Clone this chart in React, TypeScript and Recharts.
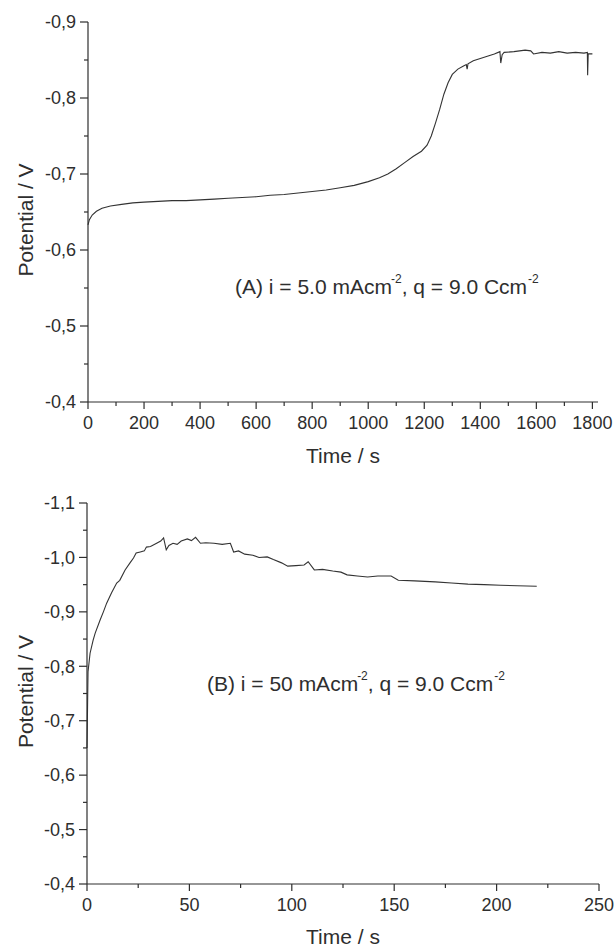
import React from 'react';
import { LineChart, Line, XAxis, YAxis } from 'recharts';

// (A) i = 5.0 mA/cm2 -- time (s) and potential (V)
const timeA = [
  0, 5, 15, 30, 50, 80, 120, 160, 200, 250, 300, 350, 400, 450, 500, 550, 600, 650, 700, 750,
  800, 850, 900, 950, 1000, 1040, 1070, 1100, 1130, 1160, 1190, 1210, 1225, 1240, 1255, 1270,
  1285, 1300, 1320, 1340, 1350, 1353, 1356, 1375, 1400, 1425, 1450, 1470, 1473, 1478, 1485,
  1520, 1560, 1580, 1590, 1620, 1650, 1680, 1710, 1740, 1770, 1782, 1783, 1785, 1800,
];
const potentialA = [
  -0.633, -0.64, -0.646, -0.651, -0.655, -0.658, -0.66, -0.662, -0.663, -0.664, -0.665, -0.665,
  -0.666, -0.667, -0.668, -0.669, -0.67, -0.672, -0.673, -0.675, -0.677, -0.679, -0.682, -0.685,
  -0.69, -0.695, -0.7, -0.707, -0.715, -0.723, -0.73, -0.738, -0.75, -0.767, -0.785, -0.805,
  -0.82, -0.831, -0.838, -0.842, -0.844, -0.838, -0.845, -0.849, -0.852, -0.855, -0.858, -0.861,
  -0.846, -0.857, -0.86, -0.861, -0.863, -0.862, -0.858, -0.86, -0.859, -0.861, -0.859, -0.86,
  -0.859, -0.86, -0.83, -0.858, -0.858,
];

// (B) i = 50 mA/cm2
const timeB = [
  0, 0.5, 1.5, 3, 4, 6.4, 8, 9.6, 12, 14.5, 16, 18.6, 21, 22.7, 24, 26, 28, 29, 31, 34, 36,
  37.4, 38.7, 40, 42, 44, 46, 49, 51, 53, 55.4, 58, 62, 66, 70, 71.6, 74, 77, 81, 84, 88, 91,
  95, 98, 102, 106, 108, 111, 115, 120, 124, 127, 132, 137, 142, 148.5, 152, 160, 170, 178,
  186, 194, 202, 210, 219.6,
];
const potentialB = [
  -0.65, -0.79, -0.824, -0.848, -0.861, -0.885, -0.9, -0.916, -0.935, -0.953, -0.958, -0.977,
  -0.99, -0.999, -1.008, -1.01, -1.012, -1.019, -1.02, -1.026, -1.03, -1.036, -1.014, -1.022,
  -1.026, -1.024, -1.03, -1.034, -1.031, -1.037, -1.026, -1.027, -1.026, -1.024, -1.026, -1.01,
  -1.012, -1.006, -1.004, -1.0, -1.001, -0.996, -0.99, -0.984, -0.985, -0.986, -0.992, -0.977,
  -0.978, -0.975, -0.973, -0.968, -0.966, -0.964, -0.966, -0.966, -0.958, -0.957, -0.955,
  -0.953, -0.951, -0.95, -0.949, -0.948, -0.947,
];

// ticks
const xMajorA = [0, 200, 400, 600, 800, 1000, 1200, 1400, 1600, 1800];
const xMinorA = [100, 300, 500, 700, 900, 1100, 1300, 1500, 1700];
const yMajorA = [-0.9, -0.8, -0.7, -0.6, -0.5, -0.4];
const yMinorA = [-0.85, -0.75, -0.65, -0.55, -0.45];

const xMajorB = [0, 50, 100, 150, 200, 250];
const xMinorB = [25, 75, 125, 175, 225];
const yMajorB = [-1.1, -1.0, -0.9, -0.8, -0.7, -0.6, -0.5, -0.4];
const yMinorB = [-1.05, -0.95, -0.85, -0.75, -0.65, -0.55, -0.45];

const dataA = timeA.map((t, i) => ({ t, v: potentialA[i] }));
const dataB = timeB.map((t, i) => ({ t, v: potentialB[i] }));

const INK = '#2e2e2e';
const FONT = '"Liberation Sans", Arial, Helvetica, sans-serif';

const isMajor = (v: number, majors: number[]) => majors.some((m) => Math.abs(m - v) < 1e-9);
const fmtY = (v: number) => v.toFixed(1).replace('.', ',');

const makeXTick = (majors: number[]) => (props: any) => {
  const { x, y, payload } = props;
  const major = isMajor(payload.value, majors);
  return (
    <g>
      <line x1={x} y1={y} x2={x} y2={y + (major ? 7 : 4)} stroke={INK} strokeWidth={1.2} />
      {major && (
        <text x={x} y={y + 27} textAnchor="middle" fontSize={18} fill={INK} fontFamily={FONT}>
          {payload.value}
        </text>
      )}
    </g>
  );
};

const makeYTick = (majors: number[]) => (props: any) => {
  const { x, y, payload } = props;
  const major = isMajor(payload.value, majors);
  return (
    <g>
      <line x1={x - (major ? 8 : 4)} y1={y} x2={x} y2={y} stroke={INK} strokeWidth={1.2} />
      {major && (
        <text x={x - 12} y={y} dy="0.35em" textAnchor="end" fontSize={18} fill={INK} fontFamily={FONT}>
          {fmtY(payload.value)}
        </text>
      )}
    </g>
  );
};

const xTitle = (dy: number) => (props: any) => {
  const vb = props.viewBox;
  return (
    <text x={vb.x + vb.width / 2} y={vb.y + dy} textAnchor="middle" fontSize={21} fill={INK} fontFamily={FONT}>
      Time / s
    </text>
  );
};

const yTitle = (dy: number) => (props: any) => {
  const vb = props.viewBox;
  const cx = 33;
  const cy = vb.y + vb.height / 2 + dy;
  return (
    <text x={cx} y={cy} transform={`rotate(-90, ${cx}, ${cy})`} textAnchor="middle" fontSize={21} fill={INK} fontFamily={FONT}>
      Potential / V
    </text>
  );
};

const axisStyle = { stroke: INK, strokeWidth: 1.2 };

const Annotation = ({ x, y, label }: { x: number; y: number; label: string }) => (
  <text x={x} y={y} fontSize={21} fill={INK} fontFamily={FONT}>
    {label} mAcm
    <tspan dx={-1} dy={-11} fontSize={12}>-2</tspan>
    <tspan dy={11}>, q = 9.0 Ccm</tspan>
    <tspan dx={1} dy={-11} fontSize={12}>-2</tspan>
  </text>
);

const App = () => (
  <div style={{ position: 'absolute', left: 0, top: 0, width: 614, height: 950, background: '#fff' }}>
    <LineChart width={614} height={470} data={dataA} margin={{ top: 22, right: 16, left: 0, bottom: 0 }}>
      <XAxis
        dataKey="t"
        type="number"
        domain={[0, 1820]}
        ticks={[...xMajorA, ...xMinorA]}
        interval={0}
        tick={makeXTick(xMajorA)}
        tickLine={false}
        tickSize={0}
        tickMargin={0}
        height={68}
        axisLine={axisStyle}
        label={xTitle(61)}
      />
      <XAxis xAxisId="top" orientation="top" type="number" domain={[0, 1820]} height={0} tick={false} tickLine={false} axisLine={axisStyle} />
      <YAxis
        type="number"
        domain={[-0.9, -0.4]}
        reversed
        ticks={[...yMajorA, ...yMinorA]}
        interval={0}
        tick={makeYTick(yMajorA)}
        tickLine={false}
        tickSize={0}
        tickMargin={0}
        width={88}
        axisLine={axisStyle}
        label={yTitle(8)}
      />
      <YAxis yAxisId="right" orientation="right" type="number" domain={[-0.9, -0.4]} reversed width={0} tick={false} tickLine={false} axisLine={axisStyle} />
      <Line type="linear" dataKey="v" stroke="#333" strokeWidth={1.1} dot={false} isAnimationActive={false} />
      <Annotation x={235} y={294} label="(A) i = 5.0" />
    </LineChart>

    <LineChart width={614} height={480} data={dataB} margin={{ top: 33, right: 15, left: 0, bottom: 0 }}>
      <XAxis
        dataKey="t"
        type="number"
        domain={[0, 250]}
        ticks={[...xMajorB, ...xMinorB]}
        interval={0}
        tick={makeXTick(xMajorB)}
        tickLine={false}
        tickSize={0}
        tickMargin={0}
        height={66}
        axisLine={axisStyle}
        label={xTitle(60)}
      />
      <XAxis xAxisId="top" orientation="top" type="number" domain={[0, 250]} height={0} tick={false} tickLine={false} axisLine={axisStyle} />
      <YAxis
        type="number"
        domain={[-1.1, -0.4]}
        reversed
        ticks={[...yMajorB, ...yMinorB]}
        interval={0}
        tick={makeYTick(yMajorB)}
        tickLine={false}
        tickSize={0}
        tickMargin={0}
        width={87}
        axisLine={axisStyle}
        label={yTitle(-2)}
      />
      <YAxis yAxisId="right" orientation="right" type="number" domain={[-1.1, -0.4]} reversed width={0} tick={false} tickLine={false} axisLine={axisStyle} />
      <Line type="linear" dataKey="v" stroke="#333" strokeWidth={1.1} dot={false} isAnimationActive={false} />
      <Annotation x={207} y={221} label="(B) i = 50" />
    </LineChart>
  </div>
);

export default App;
